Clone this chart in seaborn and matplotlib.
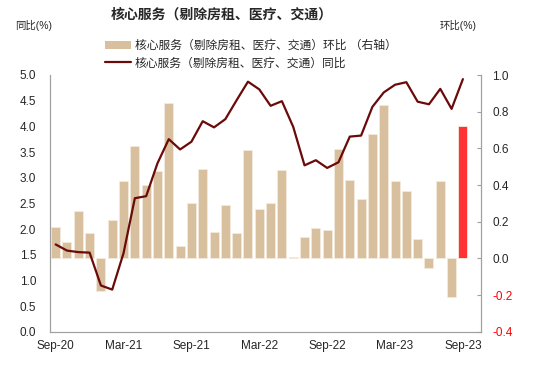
import numpy as np
import pandas as pd
import matplotlib
matplotlib.use("Agg")
import matplotlib.pyplot as plt
import seaborn as sns
from matplotlib.patches import Patch
from matplotlib.lines import Line2D

sns.set_style("white")
plt.rcParams['font.family'] = ['Liberation Sans', 'Noto Sans CJK SC', 'DejaVu Sans']
plt.rcParams['axes.unicode_minus'] = False

# monthly data, Sep-20 .. Sep-23
months = pd.date_range("2020-09-01", "2023-09-01", freq="MS").strftime("%b-%y").tolist()
mom = [0.17, 0.09, 0.26, 0.14, -0.18, 0.21, 0.42, 0.615, 0.40, 0.475, 0.845, 0.07,
       0.30, 0.49, 0.145, 0.29, 0.14, 0.59, 0.27, 0.30, 0.48, 0.005, 0.115, 0.165,
       0.155, 0.595, 0.43, 0.325, 0.68, 0.835, 0.42, 0.37, 0.105, -0.055, 0.42, -0.21,
       0.72]
yoy = [1.70, 1.58, 1.55, 1.54, 0.90, 0.82, 1.53, 2.60, 2.64, 3.28, 3.75, 3.55,
       3.70, 4.10, 3.98, 4.14, 4.51, 4.87, 4.72, 4.40, 4.49, 3.99, 3.24, 3.34,
       3.19, 3.30, 3.80, 3.82, 4.38, 4.66, 4.81, 4.86, 4.48, 4.43, 4.73, 4.34,
       4.92]

tan = "#D8BF9E"
red = "#FF3333"
maroon = "#6B0A0A"
bar_colors = [tan] * (len(months) - 1) + [red]

label_mom = "核心服务（剔除房租、医疗、交通）环比 （右轴）"
label_yoy = "核心服务（剔除房租、医疗、交通）同比"

fig = plt.figure(figsize=(5.5, 3.65), dpi=100)
ax = fig.add_axes([50/550, 1-331.7/365, (481-50)/550, (331.7-75)/365])

sns.barplot(x=months, y=mom, hue=months, palette=bar_colors, legend=False,
            width=0.8, saturation=1, edgecolor="#F3EBDD", linewidth=0.6, ax=ax)

ax2 = ax.twinx()
sns.lineplot(x=np.arange(len(yoy)), y=yoy, color=maroon, linewidth=1.6, ax=ax2)

# bars -> right axis, line -> left axis
ax.yaxis.tick_right()
ax2.yaxis.tick_left()

rticks = np.arange(-0.4, 1.01, 0.2)
ax.set_ylim(-0.4, 1.0)
ax.set_yticks(rticks)
ax.set_yticklabels([f"{v:.1f}" for v in rticks])
for t, v in zip(ax.get_yticklabels(), rticks):
    if v < -1e-9:
        t.set_color("red")

lticks = np.arange(0, 5.01, 0.5)
ax2.set_ylim(0, 5)
ax2.set_yticks(lticks)
ax2.set_yticklabels([f"{v:.1f}" for v in lticks])

ax.set_xlim(-0.5, 37.6)
ax.set_xticks(np.arange(0, len(months), 6))
ax.set_xticklabels(months[::6])
ax.set_xticks(np.arange(-0.5, len(months), 6), minor=True)
ax.tick_params(axis="x", which="major", length=0, labelsize=8.5, pad=6)
ax.tick_params(axis="x", which="minor", length=4, color="#A0A0A0", direction="out")
ax.tick_params(axis="y", length=3, direction="in", color="#A0A0A0", labelsize=8.5, pad=8)
ax2.tick_params(axis="y", length=0, labelsize=8.5, pad=10)

for a in (ax, ax2):
    a.set_xlabel("")
    a.set_ylabel("")
    a.spines["top"].set_visible(False)
    for s in ("left", "right", "bottom"):
        a.spines[s].set_color("#A0A0A0")
        a.spines[s].set_linewidth(0.8)

fig.text(222/550, 1-15/365, "核心服务（剔除房租、医疗、交通）", ha="center", va="center",
         fontsize=10, fontweight="bold")
fig.text(15/550, 1-25/365, "同比(%)", ha="left", va="center", fontsize=7.5)
fig.text(440/550, 1-25/365, "环比(%)", ha="left", va="center", fontsize=7.5)

handles = [Patch(facecolor=tan, edgecolor="none"),
           Line2D([0], [0], color=maroon, linewidth=1.6)]
fig.legend(handles, [label_mom, label_yoy], loc="upper left",
           bbox_to_anchor=(105/550, 1-40/365), frameon=False, fontsize=8.5,
           handlelength=2.2, handleheight=0.6, handletextpad=0.3, labelspacing=0.45,
           borderaxespad=0, borderpad=0)

fig.savefig("out.png", dpi=100)
